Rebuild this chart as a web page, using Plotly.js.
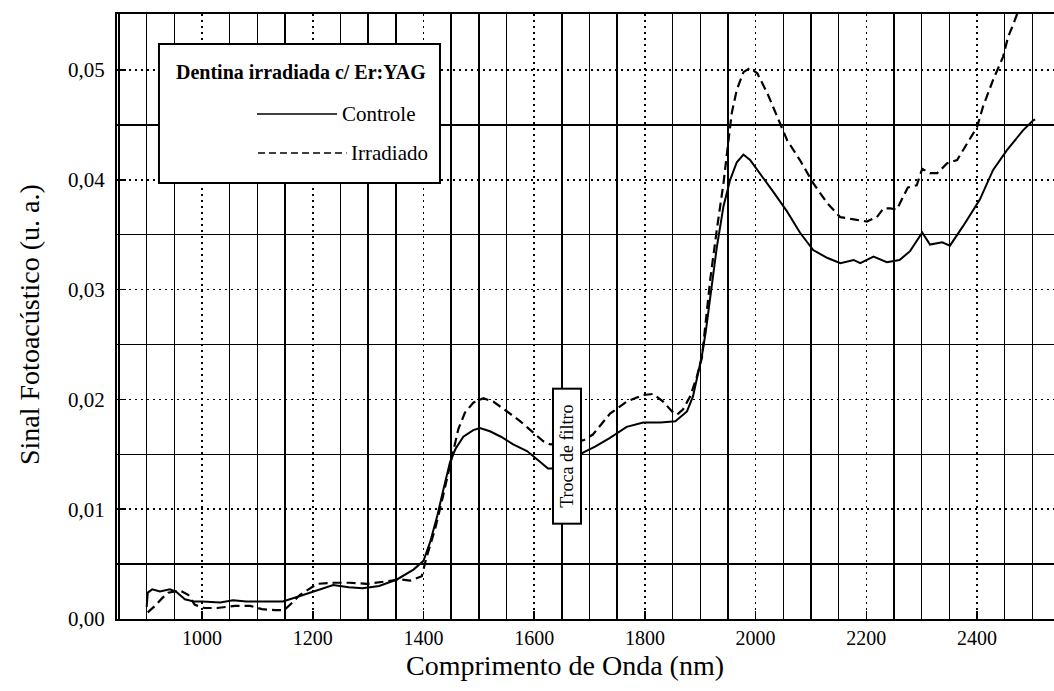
<!DOCTYPE html>
<html>
<head>
<meta charset="utf-8">
<script src="https://cdn.plot.ly/plotly-3.0.1.min.js"></script>
<style>html,body{margin:0;padding:0;background:#fff;}#chart{width:1054px;height:691px;}</style>
</head>
<body>
<div id="chart"></div>
<script>
// ---- data ----
const legendTitle = "Dentina irradiada c/ Er:YAG";
const nameControle = "Controle";
const nameIrradiado = "Irradiado";
const xTitle = "Comprimento de Onda (nm)";
const yTitle = "Sinal Fotoacústico (u. a.)";
const noteText = "Troca de filtro";
const noteX = 1659;
const noteY = 0.01486;

const xTickVals = [1000, 1200, 1400, 1600, 1800, 2000, 2200, 2400];
const yTickVals = [0.00, 0.01, 0.02, 0.03, 0.04, 0.05];

const controleX = [900, 902, 910, 924, 942, 953, 969, 985, 1000, 1033, 1056, 1080, 1105, 1146, 1177, 1201, 1237, 1265, 1290, 1320, 1352, 1382, 1400, 1412, 1425, 1436, 1448, 1458, 1472, 1490, 1502, 1520, 1540, 1562, 1587, 1611, 1625, 1640, 1665, 1690, 1710, 1737, 1767, 1797, 1828, 1855, 1876, 1887, 1896, 1903, 1910, 1918, 1930, 1942, 1954, 1966, 1978, 1990, 2008, 2032, 2057, 2080, 2104, 2129, 2153, 2177, 2189, 2213, 2237, 2260, 2279, 2301, 2315, 2337, 2351, 2375, 2405, 2429, 2454, 2483, 2501, 2505];
const controleY = [0.0011, 0.0024, 0.0027, 0.0025, 0.0027, 0.0025, 0.0018, 0.0016, 0.0016, 0.0015, 0.0017, 0.0016, 0.0016, 0.0016, 0.0021, 0.0025, 0.0031, 0.0029, 0.0028, 0.0030, 0.0036, 0.0045, 0.0053, 0.0070, 0.0094, 0.0118, 0.0143, 0.0155, 0.0166, 0.0172, 0.0174, 0.0171, 0.0166, 0.0159, 0.0153, 0.0143, 0.0137, 0.0137, 0.0145, 0.0152, 0.0157, 0.0165, 0.0175, 0.0179, 0.0179, 0.0180, 0.0189, 0.0203, 0.0224, 0.0240, 0.0262, 0.0295, 0.0339, 0.0376, 0.0400, 0.0416, 0.0423, 0.0418, 0.0406, 0.0389, 0.0371, 0.0352, 0.0336, 0.0329, 0.0324, 0.0327, 0.0324, 0.0330, 0.0325, 0.0327, 0.0335, 0.0352, 0.0341, 0.0343, 0.0340, 0.0358, 0.0382, 0.0409, 0.0427, 0.0445, 0.0454, 0.0455];

const irradiadoX = [902, 915, 928, 939, 960, 975, 987, 1004, 1027, 1060, 1087, 1108, 1132, 1148, 1159, 1177, 1208, 1238, 1267, 1298, 1329, 1358, 1376, 1397, 1406, 1421, 1434, 1445, 1454, 1463, 1475, 1490, 1508, 1526, 1551, 1575, 1598, 1616, 1629, 1660, 1690, 1706, 1737, 1767, 1797, 1815, 1833, 1849, 1858, 1869, 1882, 1894, 1903, 1918, 1930, 1942, 1951, 1957, 1966, 1978, 1990, 2003, 2021, 2039, 2057, 2080, 2104, 2129, 2153, 2177, 2201, 2219, 2231, 2243, 2255, 2264, 2275, 2291, 2301, 2315, 2328, 2346, 2364, 2382, 2400, 2411, 2429, 2447, 2456, 2465, 2472, 2490];
const irradiadoY = [0.0006, 0.0012, 0.0019, 0.0024, 0.0026, 0.0022, 0.0013, 0.0010, 0.0010, 0.0012, 0.0012, 0.0009, 0.0008, 0.0008, 0.0013, 0.0022, 0.0032, 0.0033, 0.0033, 0.0032, 0.0034, 0.0036, 0.0035, 0.0039, 0.0057, 0.0082, 0.0109, 0.0134, 0.0153, 0.0173, 0.0188, 0.0197, 0.0201, 0.0198, 0.0189, 0.0180, 0.0170, 0.0162, 0.0159, 0.0160, 0.0163, 0.0168, 0.0187, 0.0198, 0.0204, 0.0205, 0.0198, 0.0189, 0.0186, 0.0191, 0.0203, 0.0221, 0.0238, 0.0309, 0.0355, 0.0397, 0.0436, 0.0461, 0.0482, 0.0498, 0.0502, 0.0497, 0.0479, 0.0457, 0.0436, 0.0418, 0.0397, 0.0379, 0.0366, 0.0364, 0.0362, 0.0366, 0.0374, 0.0374, 0.0373, 0.0382, 0.0393, 0.0395, 0.0410, 0.0406, 0.0406, 0.0415, 0.0418, 0.0433, 0.0448, 0.0467, 0.0491, 0.0512, 0.0530, 0.0541, 0.0550, 0.0575];

// ---- grid positions (solid lines between the dotted major ones) ----
const xMinorGrid = [];
for (let v = 850; v <= 2550; v += 50) { if (v % 200 !== 0) xMinorGrid.push(v); }
const yMinorGrid = [0.005, 0.015, 0.025, 0.035, 0.045];

// ---- chart ----
const FONT = "Liberation Serif, Times New Roman, serif";
const traces = [
  {x: controleX, y: controleY, name: nameControle, mode: "lines", line: {color: "#000", width: 2}, hoverinfo: "skip"},
  {x: irradiadoX, y: irradiadoY, name: nameIrradiado, mode: "lines", line: {color: "#000", width: 2.2, dash: "9px,5px"}, hoverinfo: "skip"}
];

const gridDot = "2px,4px";
const layout = {
  width: 1054, height: 691,
  margin: {l: 117, r: 0, t: 14, b: 72},
  paper_bgcolor: "#fff", plot_bgcolor: "#fff",
  showlegend: false,
  separators: ", ",
  font: {family: FONT, color: "#000", size: 20},
  xaxis: {
    range: [846.4, 2539],
    tickmode: "array", tickvals: xTickVals, tickformat: "d",
    ticks: "inside", ticklen: 8, tickwidth: 1.5, tickcolor: "#000",
    showline: true, linewidth: 2, linecolor: "#000", mirror: true,
    showgrid: true, gridcolor: "#000", gridwidth: 1.5, griddash: gridDot,
    zeroline: false,
    tickfont: {family: FONT, size: 20, color: "#000"},
    minor: {tickmode: "array", tickvals: xMinorGrid, showgrid: true, gridcolor: "#000", gridwidth: 1.5, griddash: "solid", ticks: ""}
  },
  yaxis: {
    range: [0, 0.0551],
    tickmode: "array", tickvals: yTickVals, tickformat: ".2f",
    ticks: "inside", ticklen: 9, tickwidth: 1.5, tickcolor: "#000",
    ticklabelstandoff: 6,
    showline: true, linewidth: 2, linecolor: "#000", mirror: false,
    showgrid: true, gridcolor: "#000", gridwidth: 1.5, griddash: gridDot,
    zeroline: false,
    tickfont: {family: FONT, size: 21, color: "#000"},
    minor: {tickmode: "array", tickvals: yMinorGrid, showgrid: true, gridcolor: "#000", gridwidth: 1.5, griddash: "solid", ticks: ""}
  },
  shapes: [
    {type: "rect", xref: "paper", yref: "paper", x0: 0.0448, x1: 0.3447, y0: 0.7207, y1: 0.9504,
     fillcolor: "#fff", line: {color: "#000", width: 2}, layer: "above"},
    {type: "line", xref: "paper", yref: "paper", x0: 0.1494, x1: 0.2348, y0: 0.8347, y1: 0.8347,
     line: {color: "#000", width: 1.6}, layer: "above"},
    {type: "line", xref: "paper", yref: "paper", x0: 0.1505, x1: 0.2450, y0: 0.7702, y1: 0.7702,
     line: {color: "#000", width: 1.6, dash: "7px,4px"}, layer: "above"}
  ],
  annotations: [
    {text: "<b>" + legendTitle + "</b>", xref: "paper", yref: "paper", x: 0.1964, y: 0.904,
     xanchor: "center", yanchor: "middle", showarrow: false, font: {family: FONT, size: 20, color: "#000"}},
    {text: nameControle, xref: "paper", yref: "paper", x: 0.2380, y: 0.8347,
     xanchor: "left", yanchor: "middle", showarrow: false, font: {family: FONT, size: 21, color: "#000"}},
    {text: nameIrradiado, xref: "paper", yref: "paper", x: 0.2480, y: 0.7702,
     xanchor: "left", yanchor: "middle", showarrow: false, font: {family: FONT, size: 21, color: "#000"}},
    {text: noteText, xref: "x", yref: "y", x: noteX, y: noteY, textangle: -90,
     xanchor: "center", yanchor: "middle", showarrow: false,
     bgcolor: "#fff", bordercolor: "#000", borderwidth: 2, borderpad: 2,
     width: 129, height: 22,
     font: {family: FONT, size: 18, color: "#000"}},
    {text: xTitle, xref: "paper", yref: "paper", x: 0.478, y: -0.0775,
     xanchor: "center", yanchor: "middle", showarrow: false, font: {family: FONT, size: 28, color: "#000"}},
    {text: yTitle, xref: "paper", yref: "paper", x: -0.0928, y: 0.486, textangle: -90,
     xanchor: "center", yanchor: "middle", showarrow: false, font: {family: FONT, size: 28, color: "#000"}}
  ]
};

Plotly.newPlot("chart", traces, layout, {displayModeBar: false, staticPlot: true});
</script>
</body>
</html>
